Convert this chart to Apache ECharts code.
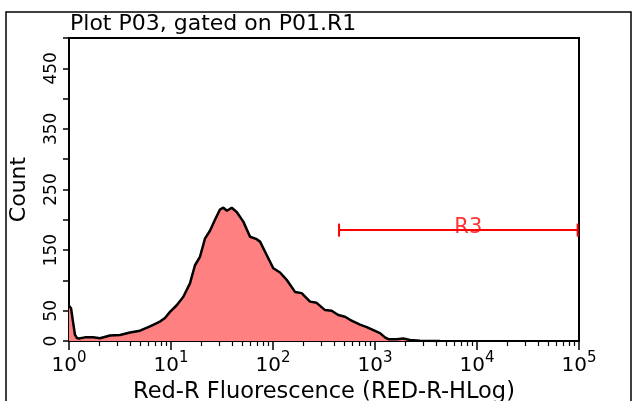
<!DOCTYPE html>
<html>
<head>
<meta charset="utf-8">
<script src="https://cdn.jsdelivr.net/npm/echarts@6/dist/echarts.min.js"></script>
<style>
html,body{margin:0;padding:0;background:#fff;}
#chart{width:636px;height:401px;}
</style>
</head>
<body>
<div id="chart"></div>
<script>
// Histogram channels (log10 of fluorescence) and counts
const channelLog10 = [0.000, 0.010, 0.020, 0.039, 0.059, 0.078, 0.098, 0.157, 0.235, 0.304, 0.402, 0.500, 0.598, 0.696, 0.794, 0.892, 0.941, 0.990, 1.056, 1.121, 1.186, 1.235, 1.284, 1.333, 1.382, 1.431, 1.480, 1.513, 1.549, 1.595, 1.644, 1.709, 1.775, 1.840, 1.873, 1.938, 2.003, 2.069, 2.134, 2.216, 2.281, 2.363, 2.428, 2.510, 2.575, 2.640, 2.706, 2.755, 2.853, 2.919, 2.984, 3.049, 3.098, 3.131, 3.213, 3.277, 3.343, 3.441, 3.637];
const counts      = [58, 59, 54, 32, 10, 5, 4, 6, 6, 4.5, 9, 10, 14, 17, 24, 32, 38, 48, 59, 73, 95, 125, 139, 169, 182, 200, 217, 220, 215, 220, 213, 197, 172, 168, 164, 142, 120, 113, 101, 81, 79, 65, 63, 51, 50, 43, 40, 35, 27, 23, 18, 13, 6, 3, 3, 4, 1.5, 0.5, 0];
const xDecades = [0, 1, 2, 3, 4, 5];
const yTickLabels = ['0', '50', '150', '250', '350', '450'];
const gateName = 'R3';
const gateLow = 444;
const gateHigh = 97000;
const gateCount = 183;

const FONT = 'DejaVu Sans';
const minorTicks = [];
for (let d = 0; d < 5; d++) {
  for (let m = 2; m <= 9; m++) minorTicks.push(d + Math.log10(m));
}
const lo = Math.log10(gateLow), hi = Math.log10(gateHigh);

const chart = echarts.init(document.getElementById('chart'));
chart.setOption({
  animation: false,
  backgroundColor: '#fff',
  title: {
    text: 'Plot P03, gated on P01.R1',
    left: 70, top: 13, padding: 0,
    textStyle: {fontFamily: FONT, fontSize: 22, fontWeight: 'normal', color: '#000'}
  },
  graphic: [{
    type: 'rect', shape: {x: 6, y: 12, width: 625, height: 420},
    style: {fill: 'none', stroke: '#000', lineWidth: 1.5}, silent: true
  }],
  grid: {left: 69, right: 57, top: 38, bottom: 60, outerBoundsMode: 'none', containLabel: false,
    show: true, borderColor: '#000', borderWidth: 2, backgroundColor: 'transparent'},
  xAxis: [{
    type: 'value', min: 0, max: 5, interval: 1,
    name: 'Red-R Fluorescence (RED-R-HLog)', nameLocation: 'middle', nameGap: 36,
    nameTextStyle: {fontFamily: FONT, fontSize: 22.5, color: '#000'},
    axisLine: {lineStyle: {color: '#000', width: 2}},
    axisTick: {show: true, length: 9, lineStyle: {color: '#000', width: 1.5}, customValues: xDecades},
    axisLabel: {
      customValues: xDecades, margin: 10,
      formatter: v => '{b|10}{s|' + v + '}',
      rich: {
        b: {fontFamily: FONT, fontSize: 20, color: '#000', verticalAlign: 'bottom'},
        s: {fontFamily: FONT, fontSize: 15, color: '#000', verticalAlign: 'top', padding: [0, 0, 10, 0]}
      }
    },
    splitLine: {show: false}
  }, {
    type: 'value', min: 0, max: 5, position: 'bottom',
    axisLine: {show: false},
    axisTick: {show: true, length: 5, lineStyle: {color: '#000', width: 1.2}, customValues: minorTicks},
    axisLabel: {show: false},
    splitLine: {show: false}
  }],
  yAxis: {
    type: 'value', min: 0, max: 500, interval: 50,
    name: 'Count', nameLocation: 'middle', nameGap: 39,
    nameTextStyle: {fontFamily: FONT, fontSize: 22, color: '#000'},
    axisLine: {show: true, lineStyle: {color: '#000', width: 2}},
    axisTick: {show: true, length: 6, lineStyle: {color: '#000', width: 1.5}},
    axisLabel: {
      rotate: 90, margin: 9, fontFamily: FONT, fontSize: 17, color: '#000',
      formatter: v => yTickLabels.indexOf(String(v)) >= 0 ? String(v) : ''
    },
    splitLine: {show: false}
  },
  series: [{
    type: 'line',
    data: channelLog10.map((x, i) => [x, counts[i]]),
    showSymbol: false, symbol: 'none',
    lineStyle: {color: '#000', width: 2.5},
    areaStyle: {color: '#FF8080', opacity: 1},
    z: 2
  }, {
    type: 'line',
    data: [[lo, gateCount], [hi, gateCount]],
    symbol: 'rect', symbolSize: [2, 13], showSymbol: true,
    itemStyle: {color: '#FF0000'},
    lineStyle: {color: '#FF0000', width: 2},
    z: 3
  }, {
    type: 'scatter',
    data: [[(lo + hi) / 2, gateCount]],
    symbolSize: 0,
    label: {show: true, position: 'inside', formatter: gateName, offset: [10, -3],
      fontFamily: FONT, fontSize: 21, color: '#FF0000'},
    z: 4
  }]
});
</script>
</body>
</html>
